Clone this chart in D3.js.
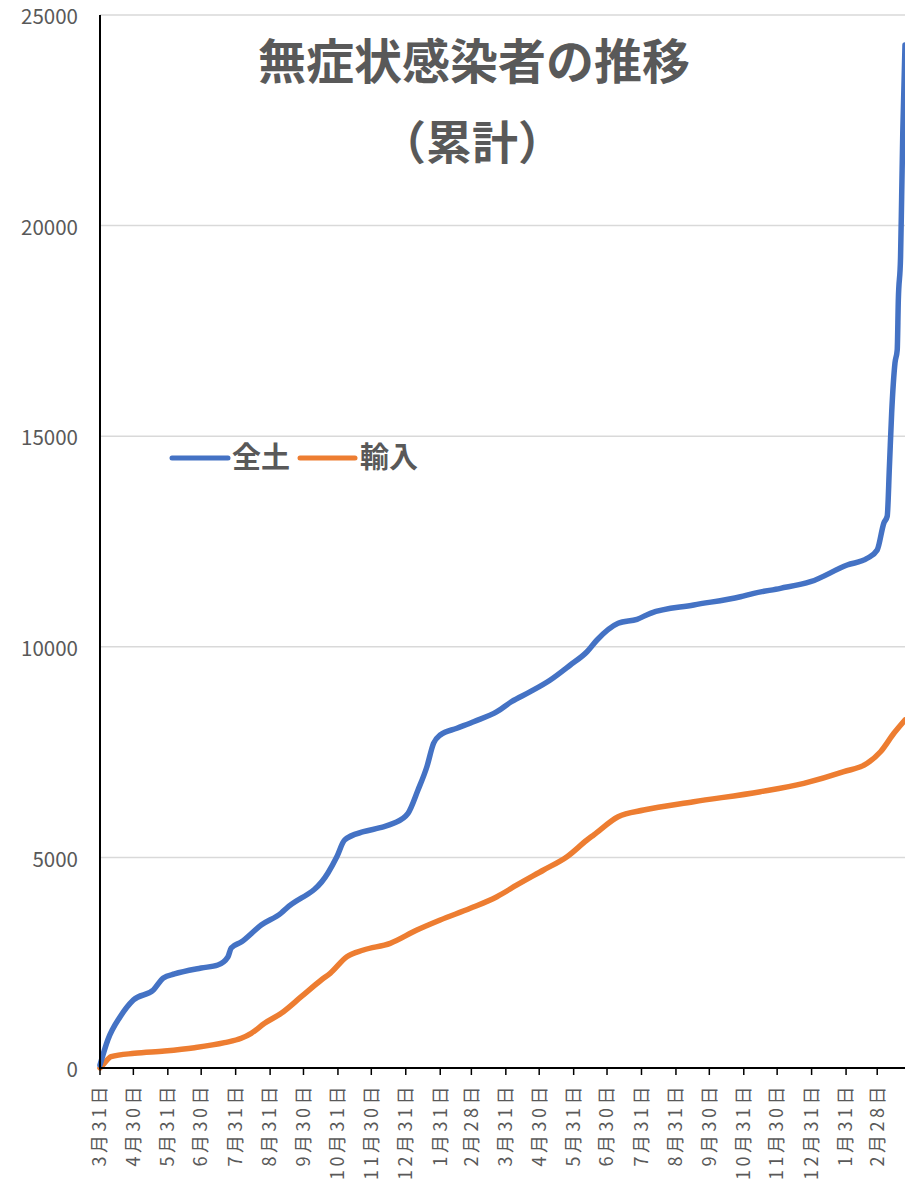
<!DOCTYPE html>
<html><head><meta charset="utf-8">
<script src="https://cdn.jsdelivr.net/npm/d3@7"></script>
<style>
html,body{margin:0;padding:0;background:#fff;}
svg{display:block;font-family:"Noto Sans CJK JP","Noto Sans",sans-serif;}
</style></head>
<body><svg id="c" width="905" height="1185"></svg>
<script>
const titleLines = ["無症状感染者の推移", "（累計）"];
const seriesNames = ["全土", "輸入"];
const seriesColors = ["#4472C4", "#ED7D31"];

const zendoDates = ["2020-03-31","2020-04-07","2020-04-18","2020-04-30","2020-05-18","2020-05-27","2020-06-06","2020-06-30","2020-07-15","2020-07-24","2020-07-27","2020-08-05","2020-08-23","2020-09-10","2020-09-15","2020-10-22","2020-10-30","2020-11-06","2020-11-23","2020-12-08","2020-12-20","2021-01-02","2021-01-11","2021-01-19","2021-01-25","2021-01-31","2021-02-15","2021-03-02","2021-03-23","2021-04-05","2021-04-22","2021-05-10","2021-05-28","2021-06-12","2021-06-21","2021-07-10","2021-07-27","2021-08-08","2021-09-16","2021-10-28","2021-11-09","2021-12-03","2021-12-30","2022-02-01","2022-02-19","2022-02-28","2022-03-06","2022-03-09","2022-03-11","2022-03-13","2022-03-16","2022-03-18","2022-03-19","2022-03-21","2022-03-22","2022-03-23","2022-03-25"];
const zendoValues = [70,665,1211,1614,1852,2137,2232,2374,2445,2635,2849,2991,3395,3680,3798,4629,5016,5413,5610,5705,5809,6047,6600,7153,7709,7906,8065,8221,8459,8696,8934,9212,9568,9883,10161,10557,10653,10795,10992,11189,11270,11388,11545,11942,12101,12298,12940,13100,14290,15550,16740,17046,18233,19254,20678,22198,24287];

const yunyuDates = ["2020-03-31","2020-04-04","2020-04-10","2020-05-01","2020-05-28","2020-06-24","2020-07-21","2020-08-05","2020-08-14","2020-08-26","2020-09-10","2020-09-28","2020-10-16","2020-10-24","2020-11-08","2020-11-23","2020-12-17","2021-01-10","2021-01-31","2021-02-27","2021-03-23","2021-04-10","2021-05-04","2021-05-25","2021-06-12","2021-06-18","2021-07-10","2021-08-02","2021-09-16","2021-11-15","2021-12-24","2022-01-29","2022-02-19","2022-03-03","2022-03-15","2022-03-25"];
const yunyuValues = [0,119,268,349,404,482,601,705,824,1061,1299,1693,2089,2248,2642,2801,2960,3276,3514,3791,4067,4345,4701,5016,5413,5532,5966,6125,6322,6560,6759,7034,7234,7509,7946,8262];

const tickDates = ["2020-03-31","2020-04-30","2020-05-31","2020-06-30","2020-07-31","2020-08-31","2020-09-30","2020-10-31","2020-11-30","2020-12-31","2021-01-31","2021-02-28","2021-03-31","2021-04-30","2021-05-31","2021-06-30","2021-07-31","2021-08-31","2021-09-30","2021-10-31","2021-11-30","2021-12-31","2022-01-31","2022-02-28"];
const yTicks = [0,5000,10000,15000,20000,25000];

const parse = d3.timeParse("%Y-%m-%d");
const svg = d3.select("#c");
const L = 100, R = 905, T = 15, B = 1068;

const x = d3.scaleTime().domain([parse("2020-03-31"), parse("2022-03-25")]).range([L, R]);
const y = d3.scaleLinear().domain([0, 25000]).range([B, T]);

// gridlines
svg.append("g").selectAll("line").data(yTicks.filter(v => v > 0)).join("line")
  .attr("x1", L).attr("x2", R).attr("y1", d => y(d)).attr("y2", d => y(d))
  .attr("stroke", "#d9d9d9").attr("stroke-width", 1.5);

// y labels
svg.append("g").selectAll("text").data(yTicks).join("text")
  .attr("x", 78).attr("y", d => y(d) + 2).attr("dy", "0.35em")
  .attr("text-anchor", "end").attr("font-size", 20.5).attr("fill", "#595959")
  .text(d => d);

// lines
const lineGen = d3.line().x(d => x(d[0])).y(d => y(d[1])).curve(d3.curveMonotoneX);
const zendo = zendoDates.map((d, i) => [parse(d), zendoValues[i]]);
const yunyu = yunyuDates.map((d, i) => [parse(d), yunyuValues[i]]);
[yunyu, zendo].forEach((data, k) => {
  svg.append("path").datum(data).attr("d", lineGen)
    .attr("fill", "none").attr("stroke", k === 0 ? seriesColors[1] : seriesColors[0])
    .attr("stroke-width", 5.5).attr("stroke-linejoin", "round").attr("stroke-linecap", "round");
});

// axes
svg.append("line").attr("x1", L).attr("x2", L).attr("y1", T).attr("y2", B + 1)
  .attr("stroke", "#000").attr("stroke-width", 2);
svg.append("line").attr("x1", L - 1).attr("x2", R).attr("y1", B).attr("y2", B)
  .attr("stroke", "#000").attr("stroke-width", 2);
svg.append("g").selectAll("line").data(tickDates).join("line")
  .attr("x1", d => x(parse(d))).attr("x2", d => x(parse(d)))
  .attr("y1", B).attr("y2", B + 7).attr("stroke", "#000").attr("stroke-width", 1.5);

// x labels
svg.append("g").selectAll("text").data(tickDates).join("text")
  .attr("transform", d => `translate(${x(parse(d))},1083) rotate(-90)`)
  .attr("text-anchor", "end").attr("dy", "0.35em")
  .attr("font-size", 18).attr("letter-spacing", 3.5).attr("fill", "#595959")
  .text(d => { const t = parse(d); return (t.getMonth() + 1) + "月" + t.getDate() + "日"; });

// title
svg.append("text").attr("x", 474).attr("y", 79).attr("text-anchor", "middle")
  .attr("font-size", 48).attr("font-weight", "bold").attr("fill", "#595959").text(titleLines[0]);
svg.append("text").attr("x", 472).attr("y", 159).attr("text-anchor", "middle")
  .attr("font-size", 46).attr("font-weight", "bold").attr("fill", "#595959").text(titleLines[1]);

// legend
const lg = svg.append("g");
[[172, 228, 232], [300, 355, 360]].forEach((p, i) => {
  lg.append("line").attr("x1", p[0]).attr("x2", p[1]).attr("y1", 458).attr("y2", 458)
    .attr("stroke", seriesColors[i]).attr("stroke-width", 5).attr("stroke-linecap", "round");
  lg.append("text").attr("x", p[2]).attr("y", 458).attr("dy", "0.36em")
    .attr("font-size", 29).attr("font-weight", "bold").attr("fill", "#595959").text(seriesNames[i]);
});
</script></body></html>
